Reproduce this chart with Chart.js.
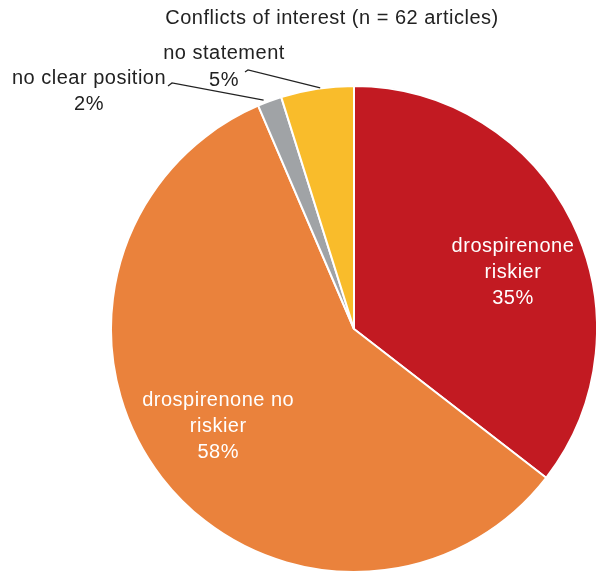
<!DOCTYPE html>
<html>
<head>
<meta charset="utf-8">
<script src="https://cdn.jsdelivr.net/npm/chart.js@4"></script>
<style>
  html, body { margin: 0; padding: 0; background: #fff; }
  #wrap { width: 596px; height: 574px; }
</style>
</head>
<body>
<div id="wrap"><canvas id="pie" width="596" height="574"></canvas></div>
<script>
// article counts, n = 62
const categories = ['drospirenone riskier', 'drospirenone no riskier', 'no clear position', 'no statement'];
const counts = [22, 36, 1, 3];
const percentLabels = ['35%', '58%', '2%', '5%'];
const sliceColors = ['#c21a22', '#ea823c', '#a0a3a6', '#f9bc2b'];
const titleText = 'Conflicts of interest (n = 62 articles)';

const FONT = '"Liberation Sans", Arial, sans-serif';

// label placement, relative to the pie centre
const labelSpec = [
  { inside: true, name: ['drospirenone', 'riskier'], frac: 0.695, dAngle: 0.112 },
  { inside: true, name: ['drospirenone no', 'riskier'], frac: 0.687, dAngle: 0.038 },
  { inside: false, name: ['no clear position'], text: [-265, -251], gap: 26, hook: [-186, -243], elbow: [-182, -246], endDx: -6 },
  { inside: false, name: ['no statement'], text: [-130, -276], gap: 27, hook: [-109, -257], elbow: [-106, -259], endDx: 3 }
];

const labelPlugin = {
  id: 'pieLabels',
  afterDatasetsDraw(chart) {
    const ctx = chart.ctx;
    const arcs = chart.getDatasetMeta(0).data;
    ctx.save();
    ctx.font = '20px ' + FONT;
    ctx.letterSpacing = '0.5px';
    ctx.textAlign = 'center';
    ctx.textBaseline = 'middle';

    // title
    ctx.fillStyle = '#222';
    ctx.fillText(titleText, 332, 18);

    arcs.forEach((arc, i) => {
      const p = arc.getProps(['x', 'y', 'startAngle', 'endAngle', 'outerRadius'], true);
      const spec = labelSpec[i];
      const lines = spec.name.concat([percentLabels[i]]);
      const mid = (p.startAngle + p.endAngle) / 2;
      if (spec.inside) {
        const a = mid + spec.dAngle;
        const cx = p.x + Math.cos(a) * p.outerRadius * spec.frac;
        const cy = p.y + Math.sin(a) * p.outerRadius * spec.frac;
        ctx.fillStyle = '#fff';
        lines.forEach((t, k) => {
          ctx.fillText(t, cx, cy + (k - 1) * 26);
        });
      } else {
        // leader line from slice edge to label
        const ex = p.x + Math.cos(mid) * p.outerRadius;
        const ey = p.y + Math.sin(mid) * p.outerRadius;
        ctx.strokeStyle = '#222';
        ctx.lineWidth = 1.2;
        ctx.beginPath();
        ctx.moveTo(p.x + spec.hook[0], p.y + spec.hook[1]);
        ctx.lineTo(p.x + spec.elbow[0], p.y + spec.elbow[1]);
        ctx.lineTo(ex + spec.endDx, ey - 1);
        ctx.stroke();
        ctx.fillStyle = '#222';
        const tx = p.x + spec.text[0];
        const ty = p.y + spec.text[1];
        lines.forEach((t, k) => {
          ctx.fillText(t, tx, ty + k * spec.gap);
        });
      }
    });
    ctx.restore();
  }
};

new Chart(document.getElementById('pie'), {
  type: 'pie',
  data: {
    labels: categories,
    datasets: [{
      data: counts,
      backgroundColor: sliceColors,
      borderColor: '#ffffff',
      borderWidth: 2
    }]
  },
  options: {
    responsive: false,
    animation: false,
    radius: 243,
    layout: { padding: { left: 112, right: 0, top: 87, bottom: 3 } },
    plugins: {
      legend: { display: false },
      tooltip: { enabled: false },
      title: { display: false }
    }
  },
  plugins: [labelPlugin]
});
</script>
</body>
</html>
